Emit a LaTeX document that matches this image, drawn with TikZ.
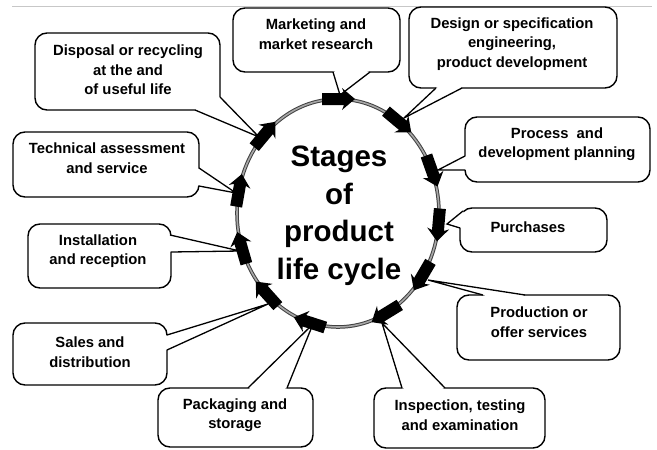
\documentclass[tikz,border=0pt]{standalone}
\usepackage{fontspec}
\setmainfont{Liberation Sans}
\usetikzlibrary{calc,decorations.markings}
\tikzset{
  box/.style={draw=black, fill=white, line width=1.4pt, rounded corners=12pt, inner sep=0pt},
  lbl/.style={font=\fontsize{14.8}{19.5}\selectfont\bfseries, align=center, inner sep=0pt},
  bigtxt/.style={font=\fontsize{29.5}{37.5}\selectfont\bfseries, align=center, inner sep=0pt},
  tailline/.style={draw=black, line width=1.3pt, line join=miter},
  ring/.style={draw=black!75, line width=1pt, double=black!35, double distance=1.6pt},
  topline/.style={draw=black!22, line width=0.9pt}
}
\newcommand\calltail[4]{\fill[white] #1 -- #2 -- #3 -- #4 -- cycle; \draw[tailline] #1 -- #2 -- #3;}
\newcommand\stagearr{\fill[black] (-16,-6) -- (6,-6) -- (4,-11) -- (17,0) -- (4,11) -- (6,6) -- (-16,6) -- cycle;}
\begin{document}
\begin{tikzpicture}[x=1pt, y=-1pt]
\useasboundingbox (0,0) rectangle (657,450);
\fill[white] (0,0) rectangle (657,450);
\draw[topline] (12,6) -- (652,6);

% boxes
\node[box, minimum width=185pt, minimum height=77pt] (dis)  at (127.5,71.5) {};
\node[box, minimum width=186pt, minimum height=65pt] (tec)  at (106,164.5) {};
\node[box, minimum width=143pt, minimum height=64pt] (ins)  at (99.5,256) {};
\node[box, minimum width=154pt, minimum height=62pt] (sal)  at (90,354) {};
\node[box, minimum width=155pt, minimum height=59pt] (pac)  at (235.5,417.5) {};
\node[box, minimum width=171pt, minimum height=60pt] (insp) at (459.5,418) {};
\node[box, minimum width=163pt, minimum height=65pt] (pro)  at (538.5,327.5) {};
\node[box, minimum width=147pt, minimum height=44pt] (pur)  at (533.5,230) {};
\node[box, minimum width=185pt, minimum height=65pt] (proc) at (557.5,149.5) {};
\node[box, minimum width=208pt, minimum height=81pt] (des)  at (513,47.5) {};
\node[box, minimum width=167pt, minimum height=64pt] (mar)  at (316.5,40) {};

% tail tips on the ring
\coordinate (tdis)  at (259,137);
\coordinate (ttec)  at (236,193);
\coordinate (tins)  at (240,251);
\coordinate (tsal)  at (268,304);
\coordinate (tpac)  at (313,324);
\coordinate (tinsp) at (382,323);
\coordinate (tpro)  at (428,280);
\coordinate (tpur)  at (447,224);
\coordinate (tproc) at (438,170);
\coordinate (tdes)  at (404,118);
\coordinate (tmar)  at (340,95);

% tails
\calltail{(195,110)}{(tdis)}{(220,97)}{(205,100)}
\calltail{(199,168)}{(ttec)}{(199,186)}{(192,177)}
\calltail{(170,235)}{(tins)}{(171,252)}{(163,244)}
\calltail{(167,335)}{(tsal)}{(167,350)}{(160,343)}
\calltail{(248,388)}{(tpac)}{(287,388)}{(267,395)}
\calltail{(402,388)}{(tinsp)}{(445,388)}{(423,395)}
\calltail{(525,295)}{(tpro)}{(483,295)}{(504,302)}
\calltail{(463,211)}{(tpur)}{(460,228)}{(468,222)}
\calltail{(465,156)}{(tproc)}{(465,170)}{(472,163)}
\calltail{(462,88)}{(tdes)}{(436,88)}{(449,81)}
\calltail{(333,72)}{(tmar)}{(370,72)}{(350,66)}

% ring and stage arrows
\draw[ring] (338,213) ellipse [x radius=101, y radius=114];
\path[decorate, decoration={markings,
  mark=at position 0.017 with {\stagearr},
  mark=at position 0.097 with {\stagearr},
  mark=at position 0.175 with {\stagearr},
  mark=at position 0.292 with {\stagearr},
  mark=at position 0.369 with {\stagearr},
  mark=at position 0.447 with {\stagearr},
  mark=at position 0.533 with {\stagearr},
  mark=at position 0.625 with {\stagearr},
  mark=at position 0.75 with {\stagearr},
  mark=at position 0.847 with {\stagearr},
  mark=at position 0.936 with {\stagearr}}]
  (338,213) ellipse [x radius=101, y radius=114];

% texts
\node[bigtxt] (center) at (339,216) {Stages\\of\\product\\life cycle};
\node[lbl] (disT)  at (128,70)  {Disposal or recycling\\at the and\\of useful life};
\node[lbl] (tecT)  at (107,158) {Technical assessment\\and service};
\node[lbl] (insT)  at (98,251)  {Installation\\and reception};
\node[lbl] (salT)  at (90,352)  {Sales and\\distribution};
\node[lbl] (pacT)  at (235,415) {Packaging and\\storage};
\node[lbl] (inspT) at (460,415) {Inspection, testing\\and examination};
\node[lbl] (proT)  at (539,322) {Production or\\offer services};
\node[lbl] (purT)  at (528,227) {Purchases};
\node[lbl] (procT) at (557,144) {Process\ \ and\\development planning};
\node[lbl] (desT)  at (512,44)  {Design or specification\\engineering,\\product development};
\node[lbl] (marT)  at (316,34)  {Marketing and\\market research};
\end{tikzpicture}
\end{document}
